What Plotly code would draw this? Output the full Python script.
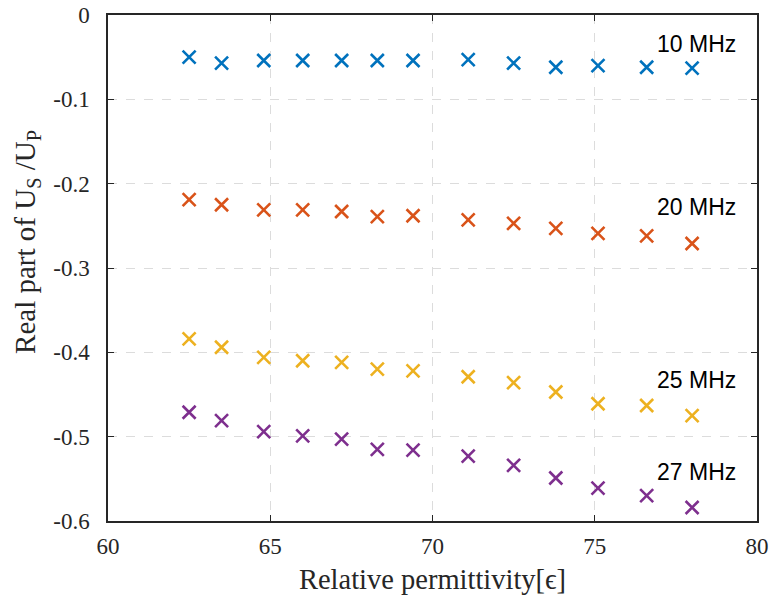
import plotly.graph_objects as go

permittivity = [62.5, 63.5, 64.8, 66.0, 67.2, 68.3, 69.4, 71.1, 72.5, 73.8, 75.1, 76.6, 78.0]
re_10mhz = [-0.050, -0.057, -0.054, -0.054, -0.054, -0.054, -0.054, -0.053, -0.057, -0.062, -0.060, -0.062, -0.063]
re_20mhz = [-0.219, -0.225, -0.231, -0.231, -0.233, -0.239, -0.238, -0.243, -0.247, -0.253, -0.259, -0.262, -0.271]
re_25mhz = [-0.384, -0.394, -0.406, -0.410, -0.412, -0.420, -0.422, -0.429, -0.436, -0.447, -0.461, -0.463, -0.475]
re_27mhz = [-0.471, -0.481, -0.494, -0.499, -0.503, -0.515, -0.516, -0.523, -0.534, -0.549, -0.561, -0.570, -0.584]

x_ticks = [60, 65, 70, 75, 80]
y_ticks = [0, -0.1, -0.2, -0.3, -0.4, -0.5, -0.6]
y_ticktext = ["0", "-0.1", "-0.2", "-0.3", "-0.4", "-0.5", "-0.6"]

series = [
    ("10 MHz", re_10mhz, "#0072BD", -0.034),
    ("20 MHz", re_20mhz, "#D95319", -0.228),
    ("25 MHz", re_25mhz, "#EDB120", -0.433),
    ("27 MHz", re_27mhz, "#7E2F8E", -0.542),
]

SERIF = "'Liberation Serif', 'Times New Roman', serif"

fig = go.Figure()
for name, vals, color, ly in series:
    fig.add_trace(go.Scatter(
        x=permittivity, y=vals, mode="markers", name=name,
        marker=dict(symbol="x-thin-open", size=13, color=color,
                    line=dict(color=color, width=2.6)),
        showlegend=False,
    ))
    fig.add_annotation(x=79.4, y=ly, text=name, showarrow=False,
                       xanchor="right", yanchor="middle",
                       font=dict(family="Liberation Sans", size=23, color="#000000"))

# y-axis title (placed as a rotated annotation, slightly above centre as in the original)
fig.add_annotation(xref="paper", yref="paper", x=-0.126, y=0.552,
                   text="Real part of U<sub>S</sub> /U<sub>P</sub>", textangle=-90,
                   showarrow=False, xanchor="center", yanchor="middle",
                   font=dict(family=SERIF, size=29, color="#262626"))

def axis_style(standoff):
    return dict(
        showline=True, linecolor="#262626", linewidth=1.5, mirror="ticks",
        ticks="inside", ticklen=6, tickcolor="#262626", tickwidth=1.2,
        showgrid=True, gridcolor="#dcdcdc", griddash="dash", gridwidth=1,
        zeroline=False, automargin=False, ticklabelstandoff=standoff,
        tickfont=dict(family=SERIF, size=23, color="#262626"),
    )

fig.update_layout(
    width=772, height=595,
    margin=dict(l=108, r=15, t=15, b=74, autoexpand=False),
    paper_bgcolor="white", plot_bgcolor="white",
    font=dict(family=SERIF, size=23, color="#262626"),
    xaxis=dict(range=[60, 80], tickvals=x_ticks,
               title=dict(text="Relative permittivity[ϵ]", standoff=11,
                          font=dict(family=SERIF, size=28.5, color="#262626")),
               **axis_style(4)),
    yaxis=dict(range=[-0.6, 0], tickvals=y_ticks, ticktext=y_ticktext,
               **axis_style(12)),
)

fig.write_html("out.html", config={"displayModeBar": False},
               post_script="document.body.style.margin='0px';")
